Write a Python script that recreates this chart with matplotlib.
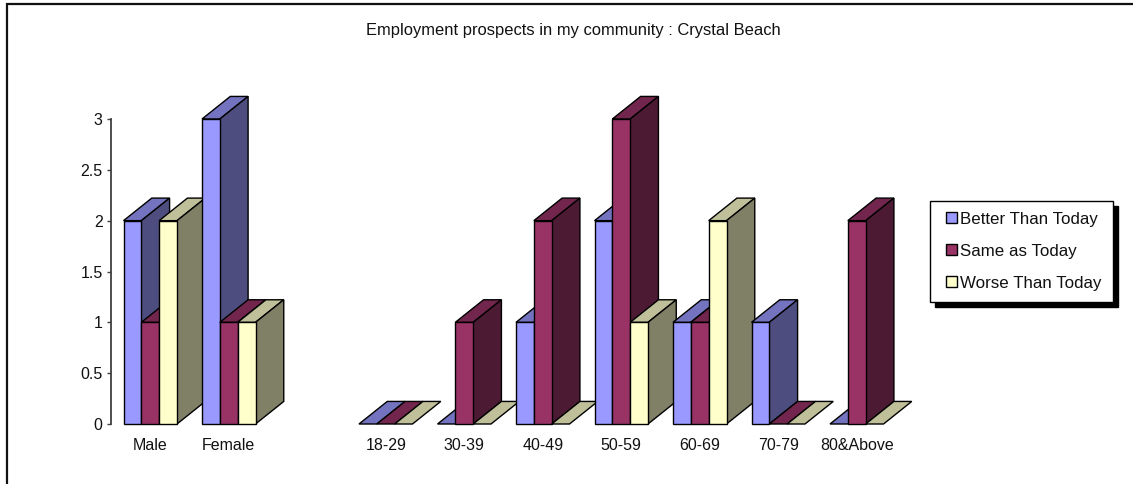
import matplotlib
matplotlib.use('Agg')
import numpy as np
import matplotlib.pyplot as plt
from matplotlib.legend_handler import HandlerPatch
from matplotlib.patches import Patch, Polygon, Rectangle

plt.rcParams['font.family'] = ['Liberation Sans', 'DejaVu Sans']

categories = ['Male', 'Female', '', '18-29', '30-39', '40-49', '50-59', '60-69', '70-79', '80&Above']
series_names = ['Better Than Today', 'Same as Today', 'Worse Than Today']
better = [2, 3, None, 0, 0, 1, 2, 1, 1, 0]
same = [1, 1, None, 0, 1, 2, 3, 1, 0, 2]
worse = [2, 1, None, 0, 0, 0, 1, 2, 0, 0]
y_ticks = [0, 0.5, 1, 1.5, 2, 2.5, 3]
y_tick_labels = ['0', '0.5', '1', '1.5', '2', '2.5', '3']

front = ['#9999FF', '#993366', '#FFFFCC']
top = ['#7373BF', '#73264D', '#BFBF99']
side = ['#4D4D80', '#4D1A33', '#808066']

W, H = 1133, 484
# one category is 78.5 px wide, one y unit is 101.67 px high
bar_w = 0.2272
depth_x = 0.36
depth_y = 0.222


def draw_bar(ax, x, v, i):
    w = bar_w
    dx, dy = depth_x, depth_y
    kw = dict(edgecolor='black', linewidth=1.0, joinstyle='miter', clip_on=False)
    ax.add_patch(Polygon([(x, v), (x + w, v), (x + w + dx, v + dy), (x + dx, v + dy)],
                         facecolor=top[i], **kw))
    if v > 0:
        ax.add_patch(Polygon([(x + w, 0), (x + w + dx, dy), (x + w + dx, v + dy), (x + w, v)],
                             facecolor=side[i], **kw))
        ax.add_patch(Polygon([(x, 0), (x + w, 0), (x + w, v), (x, v)],
                             facecolor=front[i], **kw))


def legend_square(legend, orig_handle, xdescent, ydescent, width, height, fontsize):
    size = 0.63 * fontsize
    return Rectangle((width - size - 1, (height - size) / 2), size, size)


def main():
    fig = plt.figure(figsize=(W / 100, H / 100), dpi=100)
    fig.add_artist(Rectangle((6.5 / W, -0.01), 2, (H - 4) / H + 0.01, transform=fig.transFigure,
                             facecolor='white', edgecolor='#111111', linewidth=1.6, zorder=-1))

    ax = fig.add_axes([111 / W, (H - 424) / H, 785 / W, 305 / H])
    ax.patch.set_alpha(0)
    ax.set_xlim(-12.5 / 78.5, -12.5 / 78.5 + 10)
    ax.set_ylim(0, 3)
    for s in ['top', 'right', 'bottom']:
        ax.spines[s].set_visible(False)
    ax.spines['left'].set_color('#404040')
    ax.spines['left'].set_linewidth(1.3)

    series = [better, same, worse]
    for g in range(len(categories)):
        for i, vals in enumerate(series):
            if vals[g] is not None:
                draw_bar(ax, g + i * bar_w, vals[g], i)

    ax.set_yticks(y_ticks)
    ax.set_yticklabels(y_tick_labels, fontsize=11.5, color='#111111')
    ax.tick_params(axis='y', length=3, width=1, color='#404040', pad=3)
    ax.set_xticks(np.arange(len(categories)) + 1.5 * bar_w)
    ax.set_xticklabels(categories, fontsize=11.5, color='#111111')
    ax.tick_params(axis='x', length=0, pad=10)

    fig.text(573 / W, (H - 30) / H, 'Employment prospects in my community : Crystal Beach',
             fontsize=11.85, ha='center', va='center', color='#111111')

    handles = [Patch(facecolor=front[i], edgecolor='black', linewidth=1) for i in range(3)]
    leg = fig.legend(handles, series_names, loc='upper left',
                     bbox_to_anchor=(930 / W, (H - 200.5) / H), fontsize=12.2,
                     handler_map={Patch: HandlerPatch(patch_func=legend_square)},
                     frameon=True, fancybox=False, framealpha=1, edgecolor='black',
                     shadow={'ox': 3.6, 'oy': -3.6, 'facecolor': 'black', 'edgecolor': 'black', 'alpha': 1},
                     handlelength=1.0, handleheight=0.75, handletextpad=0.15,
                     labelspacing=1.0, borderpad=0.65, borderaxespad=0)
    leg.get_frame().set_linewidth(1)
    for t in leg.get_texts():
        t.set_color('#111111')

    fig.savefig('out.png', dpi=100)


if __name__ == '__main__':
    main()
